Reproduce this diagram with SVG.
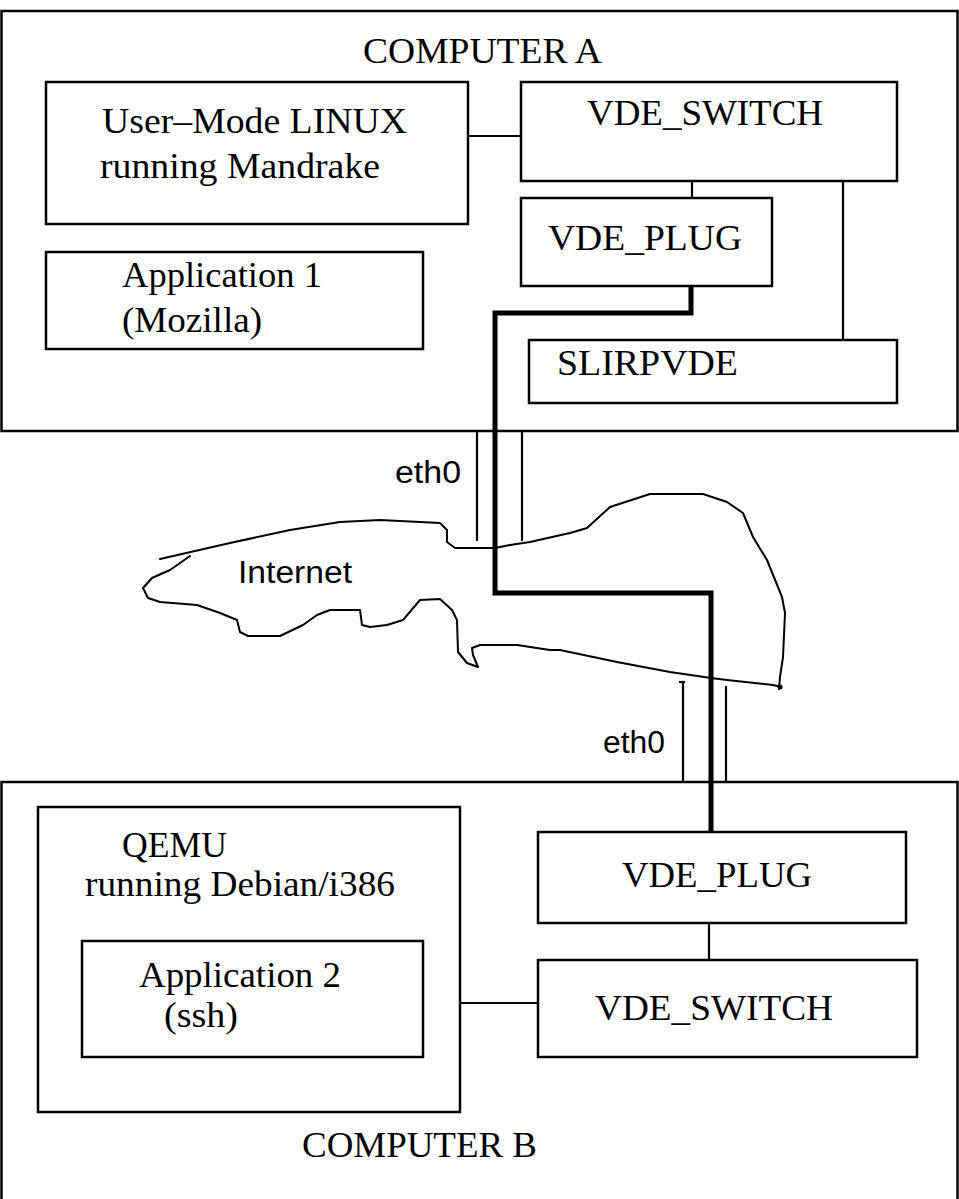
<svg xmlns="http://www.w3.org/2000/svg" width="959" height="1199" viewBox="0 0 959 1199">
<style>
.box{fill:none;stroke:#000;stroke-width:2.5}
.ln{fill:none;stroke:#000;stroke-width:2.2}
.thick{fill:none;stroke:#000;stroke-width:5;stroke-linejoin:miter}
.cloud{fill:none;stroke:#000;stroke-width:2;stroke-linejoin:round;stroke-linecap:round}
.t{font-family:"Liberation Serif","Times New Roman",serif;font-size:35px;fill:#000}
.s{font-family:"Liberation Sans",Arial,sans-serif;font-size:31px;fill:#000}
</style>
<rect width="959" height="1199" fill="#fff"/>

<g id="computer-a">
<rect class="box" x="1.5" y="11" width="956" height="420"/>
<text class="t" x="363" y="63" textLength="239" lengthAdjust="spacingAndGlyphs">COMPUTER A</text>
</g>
<g id="user-mode-linux">
<rect class="box" x="46" y="82" width="422" height="142"/>
<text class="t" x="102" y="133" textLength="305" lengthAdjust="spacingAndGlyphs">User–Mode LINUX</text>
<text class="t" x="100" y="178" textLength="280" lengthAdjust="spacingAndGlyphs">running Mandrake</text>
</g>
<g id="application-1">
<rect class="box" x="46" y="252" width="377" height="97"/>
<text class="t" x="122" y="287" textLength="200" lengthAdjust="spacingAndGlyphs">Application 1</text>
<text class="t" x="122" y="332" textLength="140" lengthAdjust="spacingAndGlyphs">(Mozilla)</text>
</g>
<g id="vde-switch-a">
<rect class="box" x="521" y="82" width="376" height="99"/>
<text class="t" x="587" y="125" textLength="236" lengthAdjust="spacingAndGlyphs">VDE_SWITCH</text>
</g>
<g id="vde-plug-a">
<rect class="box" x="521" y="198" width="251" height="88"/>
<text class="t" x="548" y="250" textLength="194" lengthAdjust="spacingAndGlyphs">VDE_PLUG</text>
</g>
<g id="slirpvde">
<rect class="box" x="529" y="340" width="368" height="63"/>
<text class="t" x="557" y="375" textLength="181" lengthAdjust="spacingAndGlyphs">SLIRPVDE</text>
</g>

<g id="internet">
<path class="cloud" d="M160,559 L230,543 L290,530 L340,522 L380,520 L420,522 L440,523 L447,530 L447,542 L455,548 L495,548 L510,545 L530,542 L570,533 L587,528 L610,507 L650,494 L703,494 L727,502 L743,513 L753,537 L767,560 L782,597 L785,613 L783,657 L780,677 L779,689"/>
<path class="cloud" d="M781,687 L773,685 L727,680 L711,678 L670,672 L617,662 L560,650 L550,650 L517,645 L480,645 L472,648 L473,655 L478,667 L467,663 L458,652 L457,620 L452,610 L440,599 L420,600 L403,620 L387,625 L370,627 L362,625 L360,610 L330,610 L317,615 L303,625 L280,636 L248,636 L240,632 L237,620 L220,613 L197,605 L160,602 L148,598 L143,588 L152,578 L170,570 L190,556"/>
<circle cx="780" cy="687" r="2.5" fill="#000"/>
<text class="s" x="238" y="583" font-size="33" textLength="114" lengthAdjust="spacingAndGlyphs">Internet</text>
</g>

<g id="eth0-a">
<text class="s" x="395" y="483" textLength="66" lengthAdjust="spacingAndGlyphs">eth0</text>
</g>
<g id="eth0-b">
<text class="s" x="603" y="753" textLength="62" lengthAdjust="spacingAndGlyphs">eth0</text>
</g>

<g id="computer-b">
<rect class="box" x="1.5" y="782" width="956" height="430"/>
<text class="t" x="302" y="1157" textLength="235" lengthAdjust="spacingAndGlyphs">COMPUTER B</text>
</g>
<g id="qemu">
<rect class="box" x="38" y="807" width="422" height="305"/>
<text class="t" x="122" y="857" textLength="105" lengthAdjust="spacingAndGlyphs">QEMU</text>
<text class="t" x="85" y="896" textLength="310" lengthAdjust="spacingAndGlyphs">running Debian/i386</text>
</g>
<g id="application-2">
<rect class="box" x="82" y="941" width="341" height="116"/>
<text class="t" x="139" y="987" textLength="202" lengthAdjust="spacingAndGlyphs">Application 2</text>
<text class="t" x="164" y="1027" textLength="74" lengthAdjust="spacingAndGlyphs">(ssh)</text>
</g>
<g id="vde-plug-b">
<rect class="box" x="538" y="832" width="368" height="91"/>
<text class="t" x="622" y="887" textLength="190" lengthAdjust="spacingAndGlyphs">VDE_PLUG</text>
</g>
<g id="vde-switch-b">
<rect class="box" x="538" y="960" width="379" height="97"/>
<text class="t" x="595" y="1020" textLength="238" lengthAdjust="spacingAndGlyphs">VDE_SWITCH</text>
</g>

<g id="connectors">
<line class="ln" x1="468" y1="136" x2="521" y2="136"/>
<line class="ln" x1="692" y1="181" x2="692" y2="198"/>
<line class="ln" x1="843" y1="181" x2="843" y2="340"/>
<polyline class="thick" points="691,286 691,313 495,313 495,593 711,593 711,832"/>
<line class="ln" x1="477" y1="431" x2="477" y2="541"/>
<line class="ln" x1="522" y1="431" x2="522" y2="541"/>
<line class="ln" x1="683" y1="683" x2="683" y2="782"/>
<line class="ln" x1="679" y1="682" x2="685" y2="682"/>
<line class="ln" x1="726" y1="686" x2="726" y2="782"/>
<line class="ln" x1="709" y1="923" x2="709" y2="960"/>
<line class="ln" x1="460" y1="1003" x2="538" y2="1003"/>
</g>
</svg>
